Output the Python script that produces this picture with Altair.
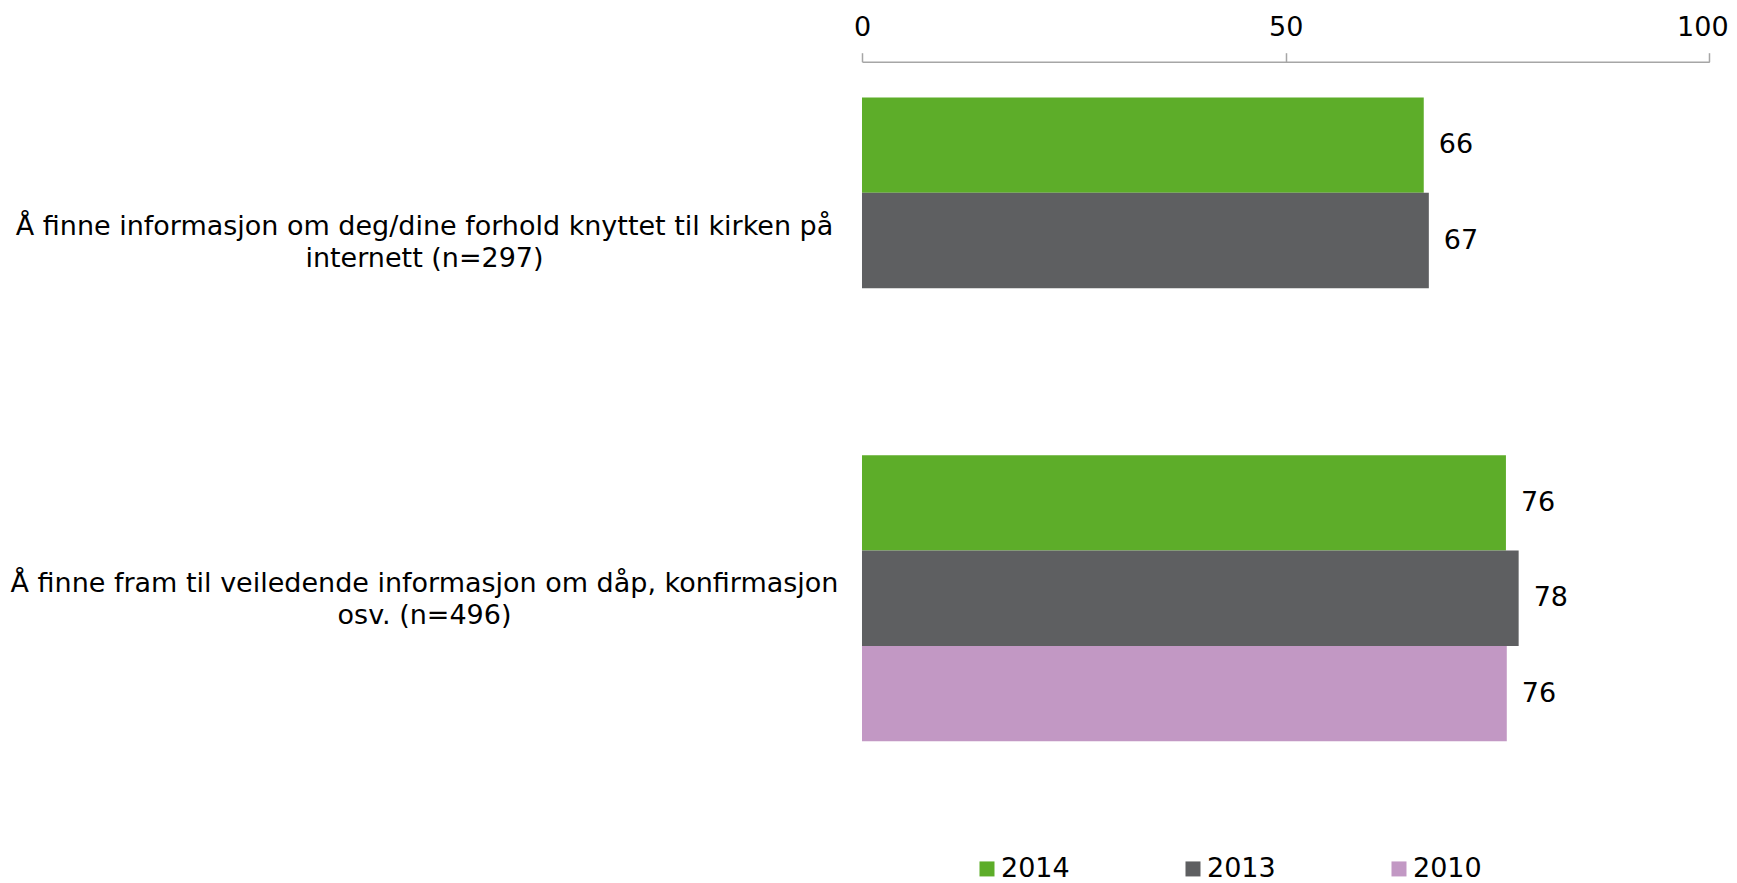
import altair as alt
import pandas as pd

categories = [
    "Å finne informasjon om deg/dine forhold knyttet til kirken på|internett (n=297)",
    "Å finne fram til veiledende informasjon om dåp, konfirmasjon|osv. (n=496)",
]
years = ["2014", "2013", "2010"]
colors = ["#5DAD29", "#5E5F61", "#C298C4"]

row_category = [categories[0], categories[0], categories[1], categories[1], categories[1]]
row_year = ["2014", "2013", "2014", "2013", "2010"]
row_value = [66.3, 66.9, 76.0, 77.5, 76.1]
row_label = ["66", "67", "76", "78", "76"]

df = pd.DataFrame({
    "category": row_category,
    "year": row_year,
    "value": row_value,
    "label": row_label,
})

FONT = "DejaVu Sans"
FS = 27

y_enc = alt.Y(
    "category:N",
    sort=categories,
    scale=alt.Scale(paddingInner=0.2, paddingOuter=0.1),
    axis=alt.Axis(
        title=None,
        domain=False,
        ticks=False,
        labelAlign="center",
        labelBaseline="middle",
        labelPadding=438,
        labelOffset=-14,
        labelExpr="split(datum.label, '|')",
        labelLineHeight=32,
        labelFont=FONT,
        labelFontSize=FS,
        labelColor="#000000",
        labelLimit=0,
    ),
)
yoff_enc = alt.YOffset("year:N", sort=years, scale=alt.Scale(domain=years, paddingInner=0, paddingOuter=0))

x_enc = alt.X(
    "value:Q",
    scale=alt.Scale(domain=[0, 100], nice=False),
    axis=alt.Axis(
        orient="top",
        title=None,
        values=[0, 50, 100],
        grid=False,
        domainColor="#A6A6A6",
        domainWidth=1.5,
        tickColor="#A6A6A6",
        tickWidth=1.5,
        tickSize=9,
        labelPadding=11.5,
        labelOffset={"condition": {"test": "datum.value === 100", "value": -7}, "value": 0},
        labelFont=FONT,
        labelFontSize=FS,
        labelColor="#000000",
        labelFlush=False,
        labelBound=False,
        labelOverlap=False,
    ),
)

bars = alt.Chart(df).mark_bar(opacity=1).encode(
    x=x_enc,
    y=y_enc,
    yOffset=yoff_enc,
    color=alt.Color(
        "year:N",
        scale=alt.Scale(domain=years, range=colors),
        legend=alt.Legend(
            title=None,
            orient="none",
            direction="horizontal",
            legendX=111.5,
            legendY=793.5,
            padding=0,
            symbolType="square",
            symbolSize=225,
            symbolStrokeWidth=0,
            symbolOpacity=1,
            labelFont=FONT,
            labelFontSize=FS,
            labelColor="#000000",
            labelOffset=0.5,
            columnPadding=109,
        ),
    ),
)

texts = alt.Chart(df).mark_text(
    align="left", baseline="middle", dx=15, font=FONT, fontSize=FS, color="#000000"
).encode(
    x="value:Q",
    y=alt.Y("category:N", sort=categories),
    yOffset=alt.YOffset("year:N", sort=years, scale=alt.Scale(domain=years)),
    text="label:N",
)

chart = alt.layer(bars, texts).properties(
    width=847.3,
    height=715.4,
    autosize=alt.AutoSizeParams(type="none"),
    padding={"left": 854, "top": 53.7, "right": 19, "bottom": 105.8},
).configure(background="#ffffff").configure_view(strokeWidth=0, stroke="transparent")

chart.save("out.html", embed_options={"renderer": "svg", "actions": False})
